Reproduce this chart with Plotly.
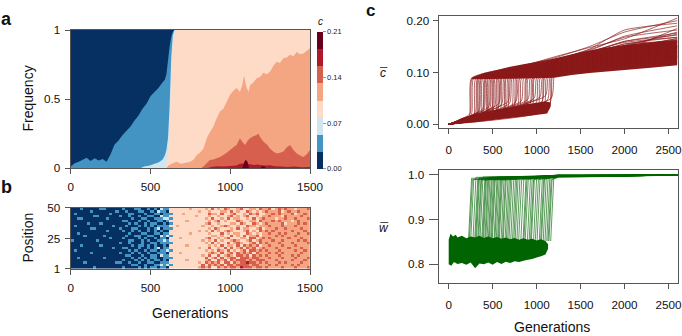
import plotly.graph_objects as go

# ---------------- colours of the 8 classes of c (low -> high) ----------------
class_colors = ["#053061", "#4393c3", "#d1e5f0", "#fddbc7",
                "#f4a582", "#d6604d", "#b2182b", "#67001f"]
c_max = 0.21
cbar_ticks = [0.00, 0.07, 0.14, 0.21]
cbar_ticktext = ["0.00", "0.07", "0.14", "0.21"]

# ---------------- panel a: cumulative frequency tops (painted bottom-up) ----------------
t1_gen = [0, 25, 50, 75, 100, 125, 150, 175, 200, 225, 250, 275, 300, 325, 350, 375, 400,
          425, 450, 475, 500, 525, 550, 575, 590, 600, 610, 620, 630, 640, 650, 1500]
t1_val = [0.010, 0.035, 0.045, 0.060, 0.075, 0.050, 0.070, 0.055, 0.065, 0.045, 0.100, 0.170,
          0.200, 0.240, 0.270, 0.300, 0.345, 0.380, 0.430, 0.465, 0.520, 0.550, 0.580, 0.620,
          0.640, 0.680, 0.780, 0.880, 0.950, 0.990, 1.0, 1.0]
t2_gen = [440, 460, 480, 500, 525, 550, 575, 590, 600, 610, 620, 630, 640, 650, 1500]
t2_val = [0, 0.010, 0.015, 0.020, 0.030, 0.040, 0.060, 0.090, 0.130, 0.220, 0.450, 0.800,
          0.960, 1.0, 1.0]
t3_gen = [595, 600, 610, 620, 630, 640, 650, 660, 1500]
t3_val = [0, 0.020, 0.090, 0.300, 0.650, 0.900, 0.970, 1.0, 1.0]
t4_gen = [600, 615, 640, 664, 690, 706, 730, 748, 770, 790, 810, 832, 853, 873, 895, 915,
          936, 957, 978, 999, 1020, 1040, 1061, 1075, 1087, 1100, 1115, 1124, 1145, 1166,
          1187, 1208, 1230, 1250, 1270, 1291, 1312, 1333, 1355, 1375, 1396, 1417, 1438,
          1458, 1480, 1500]
t4_val = [0, 0.020, 0.035, 0.046, 0.030, 0.034, 0.040, 0.046, 0.060, 0.094, 0.110, 0.140,
          0.215, 0.260, 0.300, 0.360, 0.410, 0.430, 0.480, 0.530, 0.560, 0.580, 0.550, 0.600,
          0.670, 0.590, 0.550, 0.600, 0.620, 0.650, 0.660, 0.690, 0.680, 0.700, 0.740, 0.770,
          0.760, 0.795, 0.800, 0.820, 0.810, 0.840, 0.825, 0.830, 0.850, 0.867]
t5_gen = [820, 840, 873, 895, 915, 936, 957, 978, 999, 1020, 1040, 1061, 1075, 1093, 1110,
          1124, 1145, 1166, 1176, 1190, 1208, 1230, 1250, 1270, 1291, 1312, 1333, 1355,
          1375, 1396, 1417, 1438, 1458, 1480, 1500]
t5_val = [0, 0.020, 0.058, 0.062, 0.070, 0.080, 0.094, 0.110, 0.130, 0.150, 0.167, 0.215,
          0.190, 0.167, 0.200, 0.215, 0.230, 0.240, 0.250, 0.220, 0.190, 0.170, 0.140, 0.120,
          0.105, 0.110, 0.120, 0.150, 0.167, 0.130, 0.105, 0.090, 0.080, 0.100, 0.130]
t6_gen = [860, 880, 920, 960, 1000, 1040, 1061, 1090, 1124, 1150, 1170, 1200, 1230, 1250,
          1280, 1320, 1360, 1400, 1450, 1500]
t6_val = [0, 0.008, 0.012, 0.010, 0.015, 0.018, 0.030, 0.032, 0.028, 0.022, 0.025, 0.020,
          0.018, 0.020, 0.012, 0.010, 0.008, 0.010, 0.006, 0.008]
t7_gen = [1075, 1087, 1097, 1108, 1118, 1190, 1200, 1215, 1225]
t7_val = [0, 0.040, 0.060, 0.045, 0, 0, 0.012, 0.010, 0]

# ---------------- panel b: class of c per position (rows top=50 -> bottom=1), 20 gens / column ----------------
position_rows = [
    "000100000110000 010001100101021 133333343333435 343543345334435 445345454434445",
    "000000100000001 001000110010211 033333333343343 334435343354343 454445345445444",
    "010000000000100 000110001001101 113334333333354 435334533435453 344545444534454",
    "000000011000000 100100100110021 133333333433343 343345343453343 445444354444544",
    "001100000001000 000010011001112 213333333333435 334353443343534 544434454454445",
    "000000000000000 011000100100110 133333433333343 453433354334435 444545444345444",
    "000001000100000 000101001011001 013333333333453 343334435433543 454444534445454",
    "010000000000010 001000101010111 133433333334334 334543343354434 445444544454444",
    "000000110000000 100011000101201 113333333333343 543334353443345 344454454444544",
    "000000000001000 010010100101010 033333333343435 343454333453435 454544444544454",
    "001000000000000 000100011001101 133333343333343 335343443354343 445445454445445",
    "000010000010000 001001100110021 213333333333334 434335343534453 444454544454444",
    "000000000000100 010000101001011 033343333333453 343453334435534 545444445444544",
    "100000001000000 000110010100112 133333333334343 534334543345345 444544544445454",
    "000000000000000 100100010011011 113333333333435 343353454334535 454445444544445",
    "000100000100000 000010110101001 033333433333343 435344353545453 445444544454444",
    "000000000000010 011000100101201 133333333343353 343535345354534 544454445444544",
    "010000000000000 000101001011011 213333333333434 354353434535545 454445444454454",
    "000000100000000 100010100100111 033343333333345 435345354545354 445454544444544",
    "000000000000000 001100010011021 133333333334353 353454355453545 454445444545444",
    "001000000010000 000010101011001 113333333333534 535345535554554 445444544454445",
    "000000000000000 010001010101101 033333433333453 354535455545455 544454444544454",
    "000010000000001 100100100110011 133333333343545 453553545565545 454445454444544",
    "000000000000000 000011001001121 213333333335354 545355455554554 445454444545444",
    "000000010000000 010000101011011 033333333345453 354545546555455 454444544454445",
]
b_gen_span = [0, 1500]
b_pos_span = [1, 50]

# ---------------- panel c: replicate runs ----------------
switch_gen = [230, 240, 255, 280, 300, 310, 320, 335, 345, 360, 380, 390, 400, 415, 425,
              440, 455, 465, 480, 490, 500, 520, 530, 545, 560, 570, 580, 600, 615, 625,
              645, 660, 675, 690, 710, 730, 745, 760, 780, 800, 825, 850, 860, 875, 900,
              920, 935, 945, 970, 990, 1010, 1035, 1050, 1060, 1080, 1100, 1120, 1135, 1145,
              1165]
c_before = [0.012, 0.020, 0.018, 0.010, 0.022, 0.016, 0.015, 0.024, 0.025, 0.012,
            0.020, 0.030, 0.028, 0.018, 0.016, 0.024, 0.034, 0.030, 0.018, 0.032,
            0.026, 0.034, 0.022, 0.020, 0.030, 0.040, 0.024, 0.038, 0.026, 0.028,
            0.032, 0.022, 0.044, 0.040, 0.030, 0.026, 0.036, 0.042, 0.034, 0.028,
            0.045, 0.036, 0.026, 0.030, 0.048, 0.038, 0.044, 0.032, 0.050, 0.040,
            0.030, 0.052, 0.036, 0.044, 0.035, 0.055, 0.046, 0.028, 0.038, 0.050]
c_at_800 = [0.112, 0.106, 0.104, 0.108, 0.100, 0.103, 0.106, 0.099, 0.097, 0.102,
            0.110, 0.096, 0.095, 0.101, 0.099, 0.105, 0.098, 0.094, 0.098, 0.100,
            0.103, 0.093, 0.099, 0.097, 0.096, 0.094, 0.101, 0.092, 0.097, 0.096,
            0.094, 0.099, 0.093, 0.091, 0.095, 0.093, 0.092, 0.091, None, None,
            None, None, None, None, None, None, None, None, None, None,
            None, None, None, None, None, None, None, None, None, None]
c_at_1200 = [0.128, 0.118, 0.121, 0.118, 0.115, 0.124, 0.125, 0.113, 0.112, 0.119,
             0.130, 0.110, 0.108, 0.122, 0.116, 0.122, 0.112, 0.110, 0.114, 0.117,
             0.120, 0.106, 0.115, 0.113, 0.111, 0.109, 0.117, 0.104, 0.114, 0.112,
             0.109, 0.115, 0.107, 0.105, 0.110, 0.107, 0.111, 0.103, 0.110, 0.106,
             0.100, 0.108, 0.112, 0.104, 0.102, 0.107, 0.100, 0.099, 0.103, 0.098,
             0.101, 0.097, 0.104, 0.099, 0.096, 0.098, 0.094, 0.097, 0.095, 0.093]
c_at_1600 = [0.150, 0.135, 0.138, 0.131, 0.128, 0.144, 0.142, 0.127, 0.124, 0.136,
             0.148, 0.122, 0.120, 0.139, 0.133, 0.145, 0.125, 0.118, 0.127, 0.132,
             0.140, 0.116, 0.130, 0.129, 0.122, 0.119, 0.134, 0.114, 0.128, 0.125,
             0.119, 0.131, 0.121, 0.113, 0.126, 0.117, 0.124, 0.112, 0.125, 0.118,
             0.110, 0.122, 0.127, 0.116, 0.113, 0.121, 0.111, 0.108, 0.115, 0.109,
             0.114, 0.106, 0.117, 0.112, 0.105, 0.110, 0.104, 0.109, 0.107, 0.103]
c_at_2000 = [0.178, 0.155, 0.160, 0.148, 0.142, 0.168, 0.170, 0.140, 0.138, 0.152,
             0.165, 0.134, 0.132, 0.160, 0.146, 0.182, 0.139, 0.128, 0.140, 0.150,
             0.158, 0.125, 0.147, 0.150, 0.135, 0.131, 0.155, 0.126, 0.143, 0.144,
             0.131, 0.148, 0.136, 0.122, 0.140, 0.129, 0.138, 0.121, 0.152, 0.133,
             0.119, 0.137, 0.145, 0.127, 0.124, 0.144, 0.123, 0.117, 0.130, 0.121,
             0.126, 0.116, 0.134, 0.128, 0.114, 0.123, 0.118, 0.125, 0.120, 0.112]
c_at_2600 = [0.200, 0.168, 0.172, 0.165, 0.150, 0.182, 0.190, 0.148, 0.145, 0.162,
             0.205, 0.142, 0.140, 0.176, 0.158, 0.195, 0.150, 0.136, 0.155, 0.163,
             0.168, 0.132, 0.158, 0.178, 0.148, 0.139, 0.160, 0.128, 0.152, 0.185,
             0.142, 0.153, 0.146, 0.130, 0.163, 0.138, 0.150, 0.127, 0.174, 0.144,
             0.124, 0.150, 0.160, 0.135, 0.140, 0.166, 0.131, 0.122, 0.147, 0.133,
             0.139, 0.120, 0.152, 0.157, 0.126, 0.134, 0.145, 0.129, 0.131, 0.118]
c_jump_gens = 30
c_plateau = 0.089

# dense core of the c runs (envelopes)
c_wedge_up_gen = [0, 150, 300, 500, 700, 900, 1100, 1160]
c_wedge_up_val = [0, 0.012, 0.020, 0.027, 0.033, 0.039, 0.044, 0.042]
c_wedge_lo_gen = [0, 300, 600, 900, 1120, 1160]
c_wedge_lo_val = [0, 0.004, 0.010, 0.016, 0.021, 0.035]
c_band_up_gen = [260, 400, 550, 700, 850, 1000, 1200, 1500, 1750, 2000, 2300, 2600]
c_band_up_val = [0.090, 0.099, 0.105, 0.111, 0.116, 0.120, 0.127, 0.139, 0.147, 0.153,
                 0.158, 0.162]
c_band_lo_gen = [260, 700, 1000, 1200, 1400, 1600, 2000, 2300, 2600]
c_band_lo_val = [0.087, 0.088, 0.089, 0.090, 0.095, 0.099, 0.105, 0.109, 0.114]

w_before = 0.852
w_after = [0.992, 0.989, 0.990, 0.994, 0.989, 0.991, 0.993, 0.988, 0.991, 0.995,
           0.988, 0.990, 0.992, 0.994, 0.990, 0.994, 0.991, 0.989, 0.993, 0.988,
           0.991, 0.995, 0.990, 0.990, 0.992, 0.989, 0.988, 0.994, 0.992, 0.991,
           0.993, 0.989, 0.991, 0.995, 0.990, 0.992, 0.993, 0.994, 0.991, 0.989,
           0.993, 0.995, 0.990, 0.990, 0.992, 0.994, 0.989, 0.991, 0.993, 0.989,
           0.995, 0.992, 0.990, 0.990, 0.994, 0.991, 0.993, 0.990, 0.989, 0.992]
w_at_1250 = [0.997, 0.998, 0.996, 0.998, 0.997, 0.996, 0.996, 0.997, 0.998, 0.997,
             0.999, 0.998, 0.996, 0.997, 0.998, 0.998, 0.997, 0.996, 0.997, 0.999,
             0.998, 0.996, 0.997, 0.998, 0.999, 0.996, 0.996, 0.997, 0.998, 0.998,
             0.996, 0.999, 0.997, 0.997, 0.996, 0.998, 0.997, 0.997, 0.996, 0.998,
             0.997, 0.999, 0.998, 0.996, 0.998, 0.997, 0.996, 0.996, 0.998, 0.997,
             0.999, 0.996, 0.998, 0.997, 0.998, 0.996, 0.997, 0.996, 0.995, 0.994]
w_end = 0.999
w_band_up_gen = [0, 20, 50, 80, 100, 150, 200, 250, 300, 350, 400, 450, 500, 550, 600, 650,
                 700, 750, 800, 850, 900, 950, 1000, 1050, 1100, 1130]
w_band_up_val = [0.855, 0.868, 0.862, 0.866, 0.860, 0.864, 0.858, 0.862, 0.860, 0.864,
                 0.859, 0.862, 0.858, 0.861, 0.857, 0.860, 0.856, 0.859, 0.855, 0.858,
                 0.855, 0.857, 0.853, 0.856, 0.852, 0.845]
w_band_lo_gen = [0, 30, 60, 100, 150, 200, 250, 300, 350, 400, 450, 500, 550, 600, 650,
                 700, 750, 800, 850, 900, 950, 1000, 1050, 1100, 1130]
w_band_lo_val = [0.800, 0.797, 0.805, 0.801, 0.803, 0.799, 0.804, 0.791, 0.802, 0.800,
                 0.804, 0.799, 0.805, 0.801, 0.806, 0.803, 0.807, 0.805, 0.808, 0.810,
                 0.812, 0.815, 0.818, 0.822, 0.835]

C_RED = "#8b1a1a"
W_GREEN = "#006400"
FONT = "Liberation Sans, Arial, Helvetica, sans-serif"
W, H = 682, 336

fig = go.Figure()

# ---- panel a ----
fig.add_trace(go.Scatter(x=[0, 1500], y=[1, 1], fill="tozeroy", mode="none",
                         fillcolor=class_colors[0], xaxis="x", yaxis="y", hoverinfo="skip"))
for k, (g, v) in enumerate([(t1_gen, t1_val), (t2_gen, t2_val), (t3_gen, t3_val),
                            (t4_gen, t4_val), (t5_gen, t5_val), (t6_gen, t6_val),
                            (t7_gen, t7_val)], start=1):
    fig.add_trace(go.Scatter(x=g, y=v, fill="tozeroy", mode="none",
                             fillcolor=class_colors[k], xaxis="x", yaxis="y",
                             hoverinfo="skip"))

# ---- panel b ----
rows = [r.replace(" ", "") for r in position_rows]
ncol = len(rows[0])
nrow = len(rows)
binw = c_max / len(class_colors)
z = [[(int(ch) + 0.5) * binw for ch in r[:ncol]] for r in reversed(rows)]
dx = (b_gen_span[1] - b_gen_span[0]) / ncol
dy = (b_pos_span[1] - b_pos_span[0]) / nrow
cs = []
for i, col in enumerate(class_colors):
    cs.append([i / len(class_colors), col])
    cs.append([(i + 1) / len(class_colors), col])
fig.add_trace(go.Heatmap(
    z=z, x0=b_gen_span[0] + dx / 2, dx=dx, y0=b_pos_span[0] + dy / 2, dy=dy,
    zmin=0, zmax=c_max, colorscale=cs, xaxis="x2", yaxis="y2", hoverinfo="skip",
    colorbar=dict(x=316.7 / W, xanchor="left", y=1 - 100.35 / H, yanchor="middle",
                  len=137.3 / H, lenmode="fraction", thickness=5.6,
                  thicknessmode="pixels", xpad=0, ypad=0, outlinewidth=0,
                  tickvals=cbar_ticks, ticktext=cbar_ticktext, ticks="outside",
                  ticklen=3, tickwidth=0.6, tickcolor="#555",
                  tickfont=dict(size=7.5, color="#222", family=FONT))))

# ---- panel c top ----
fig.add_trace(go.Scatter(x=c_wedge_up_gen + c_wedge_lo_gen[::-1],
                         y=c_wedge_up_val + c_wedge_lo_val[::-1], fill="toself",
                         mode="none", fillcolor=C_RED, xaxis="x3", yaxis="y3",
                         hoverinfo="skip"))
fig.add_trace(go.Scatter(x=c_band_up_gen + c_band_lo_gen[::-1],
                         y=c_band_up_val + c_band_lo_val[::-1], fill="toself",
                         mode="none", fillcolor=C_RED, xaxis="x3", yaxis="y3",
                         hoverinfo="skip"))
n_runs = min(len(switch_gen), len(c_before), len(c_at_800), len(c_at_1200),
             len(c_at_1600), len(c_at_2000), len(c_at_2600), len(w_after), len(w_at_1250))
for i in range(n_runs):
    t = switch_gen[i]
    xs = [0, t, t + c_jump_gens]
    ys = [0, c_before[i], c_plateau]
    if c_at_800[i] is not None and t + c_jump_gens < 800:
        xs.append(800); ys.append(c_at_800[i])
    if t + c_jump_gens < 1200:
        xs.append(1200); ys.append(c_at_1200[i])
    xs += [1600, 2000, 2600]
    ys += [c_at_1600[i], c_at_2000[i], c_at_2600[i]]
    fig.add_trace(go.Scatter(x=xs, y=ys, mode="lines",
                             line=dict(color=C_RED, width=0.8, shape="spline",
                                       smoothing=0.5),
                             opacity=0.85, xaxis="x3", yaxis="y3", hoverinfo="skip"))

# ---- panel c bottom ----
fig.add_trace(go.Scatter(x=w_band_up_gen + w_band_lo_gen[::-1],
                         y=w_band_up_val + w_band_lo_val[::-1], fill="toself",
                         mode="none", fillcolor=W_GREEN, xaxis="x4", yaxis="y4",
                         hoverinfo="skip"))
for i in range(n_runs):
    t = switch_gen[i]
    xs = [t - 5, t + c_jump_gens, 1250, 2600]
    ys = [w_before, w_after[i], w_at_1250[i], w_end]
    fig.add_trace(go.Scatter(x=xs, y=ys, mode="lines",
                             line=dict(color=W_GREEN, width=0.8),
                             opacity=0.8, xaxis="x4", yaxis="y4", hoverinfo="skip"))

axis_common = dict(showline=True, linecolor="#555", linewidth=1, mirror=True,
                   ticks="outside", ticklen=5, tickwidth=1, tickcolor="#555",
                   showgrid=False, zeroline=False, automargin=False,
                   ticklabeloverflow="allow",
                   tickfont=dict(size=11.7, color="#111", family=FONT))

xa_dom = [70.7 / W, 310 / W]
xc_dom = [438.5 / W, 677.5 / W]
fig.update_layout(
    template="none",
    width=W, height=H, margin=dict(l=0, r=0, t=0, b=0, pad=0, autoexpand=False),
    plot_bgcolor="white", paper_bgcolor="white", showlegend=False,
    font=dict(family=FONT, color="#111"),
    xaxis=dict(axis_common, domain=xa_dom, anchor="y", range=[0, 1500],
               tickvals=[0, 500, 1000, 1500], ticklabelstandoff=3),
    yaxis=dict(axis_common, domain=[1 - 168 / H, 1 - 30 / H], anchor="x", range=[0, 1],
               tickvals=[0, 0.5, 1], ticktext=["0", "0.5", "1"], ticklabelstandoff=2),
    xaxis2=dict(axis_common, domain=xa_dom, anchor="y2", range=[0, 1500],
                tickvals=[0, 500, 1000, 1500], ticklabelstandoff=3),
    yaxis2=dict(axis_common, domain=[1 - 268.7 / H, 1 - 207.7 / H], anchor="x2",
                range=[1, 50], tickvals=[1, 25, 50], ticklabelstandoff=2),
    xaxis3=dict(axis_common, domain=xc_dom, anchor="y3", range=[-116, 2602],
                tickvals=[0, 500, 1000, 1500, 2000, 2500], ticklabelstandoff=6),
    yaxis3=dict(axis_common, domain=[1 - 127.7 / H, 1 - 16 / H], anchor="x3",
                range=[-0.0066, 0.209], tickvals=[0, 0.1, 0.2],
                ticktext=["0.00", "0.10", "0.20"], ticklabelstandoff=1),
    xaxis4=dict(axis_common, domain=xc_dom, anchor="y4", range=[-116, 2602],
                tickvals=[0, 500, 1000, 1500, 2000, 2500], ticklabelstandoff=6),
    yaxis4=dict(axis_common, domain=[1 - 282.7 / H, 1 - 170 / H], anchor="x4",
                range=[0.759, 1.0105], tickvals=[0.8, 0.9, 1.0],
                ticktext=["0.8", "0.9", "1.0"], ticklen=9, ticklabelstandoff=2),
)


def ann(text, px, py, size=14, angle=0, xanchor="center", yanchor="middle", pad=1):
    fig.add_annotation(text=text, x=px / W, y=1 - py / H, xref="paper", yref="paper",
                       showarrow=False, textangle=angle, xanchor=xanchor,
                       yanchor=yanchor, borderpad=pad,
                       font=dict(size=size, family=FONT, color="#111"))


ann("<b>a</b>", 6, 19, size=18)
ann("<b>b</b>", 6, 187, size=18)
ann("<b>c</b>", 370, 0, size=17, yanchor="top", pad=0)
ann("Frequency", 27.5, 99, angle=-90)
ann("Position", 27.5, 238, angle=-90)
ann("Generations", 190, 313)
ann("Generations", 552, 336, yanchor="bottom", pad=0)
ann("<i>c</i>", 320, 21, size=10)
ann("<i>c</i>", 383.5, 72.5, size=12)
ann("<i>w</i>", 384.3, 227.5, size=12)
for x0, x1, yy in [(380, 387.5, 67.5), (380.3, 388.3, 222.5)]:
    fig.add_shape(type="line", xref="paper", yref="paper", x0=x0 / W, x1=x1 / W,
                  y0=1 - yy / H, y1=1 - yy / H, line=dict(color="#222", width=0.8))

fig.write_html("out.html", config={"displayModeBar": False, "staticPlot": True},
               post_script="document.body.style.margin='0';document.body.style.padding='0';")
